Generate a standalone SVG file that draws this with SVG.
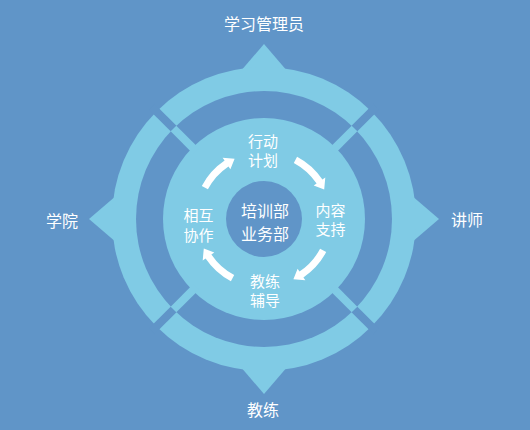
<svg xmlns="http://www.w3.org/2000/svg" xmlns:xlink="http://www.w3.org/1999/xlink" width="530" height="430" viewBox="0 0 530 430">
  <style>
    .bg { fill: #6095C8; }
    .lt { fill: #80CBE5; }
    .dk { fill: #6095C8; }
    .wh { fill: #FFFFFF; }
    text { font-family: "Noto Sans CJK SC", "Noto Sans", sans-serif; fill: #FFFFFF; text-anchor: middle; }
    .t16 { font-size: 16px; }
    .t15 { font-size: 15px; }
  </style>
  <defs>
    <polygon id="pointer" points="0,-175 -30,-140 30,-140"/>
    <rect id="cut" x="127" y="-4" width="32" height="8"/>
    <rect id="bridge" x="96" y="-4" width="32" height="8"/>
    <path id="arrow" d="M -62.2,-33.1 A 70.5 70.5 0 0 1 -39.4,-58.4 L -41.4,-61.3 L -29.4,-60.2 L -33.6,-49.7 L -35.5,-52.6 A 63.5 63.5 0 0 0 -56.1,-29.8 Z"/>
  </defs>

  <rect class="bg" x="0" y="0" width="530" height="430"/>

  <g id="compass" transform="translate(264 219)">
    <g id="pointers" class="lt">
      <use xlink:href="#pointer"/>
      <use xlink:href="#pointer" transform="rotate(90)"/>
      <use xlink:href="#pointer" transform="rotate(180)"/>
      <use xlink:href="#pointer" transform="rotate(270)"/>
    </g>
    <circle id="outer-ring" class="lt" r="152"/>
    <circle id="gap-ring" class="dk" r="128"/>
    <circle id="inner-disc" class="lt" r="101"/>
    <g id="cuts" class="dk">
      <use xlink:href="#cut" transform="rotate(45)"/>
      <use xlink:href="#cut" transform="rotate(135)"/>
      <use xlink:href="#cut" transform="rotate(225)"/>
      <use xlink:href="#cut" transform="rotate(315)"/>
    </g>
    <g id="bridges" class="lt">
      <use xlink:href="#bridge" transform="rotate(45)"/>
      <use xlink:href="#bridge" transform="rotate(135)"/>
      <use xlink:href="#bridge" transform="rotate(225)"/>
      <use xlink:href="#bridge" transform="rotate(315)"/>
    </g>
    <circle id="hub" class="dk" r="38"/>
  </g>

  <g id="connectors" class="wh" transform="translate(264 219)">
    <use xlink:href="#arrow"/>
    <use xlink:href="#arrow" transform="rotate(90)"/>
    <use xlink:href="#arrow" transform="rotate(180)"/>
    <use xlink:href="#arrow" transform="rotate(270)"/>
  </g>

  <g id="node-manager"><text class="t16" x="264" y="30">学习管理员</text></g>
  <g id="node-college"><text class="t16" x="62" y="226.5">学院</text></g>
  <g id="node-lecturer"><text class="t16" x="467" y="225.5">讲师</text></g>
  <g id="node-coach"><text class="t16" x="263" y="415.5">教练</text></g>

  <g id="node-plan"><text class="t15" x="263" y="147">行动</text><text class="t15" x="263" y="166">计划</text></g>
  <g id="node-content"><text class="t15" x="330.5" y="215.5">内容</text><text class="t15" x="330.5" y="234.5">支持</text></g>
  <g id="node-coaching"><text class="t15" x="265" y="287">教练</text><text class="t15" x="265" y="306">辅导</text></g>
  <g id="node-collab"><text class="t15" x="198.5" y="220.5">相互</text><text class="t15" x="198.5" y="240.5">协作</text></g>
  <g id="node-center"><text class="t16" x="265" y="216.5">培训部</text><text class="t16" x="265" y="239.5">业务部</text></g>
</svg>
